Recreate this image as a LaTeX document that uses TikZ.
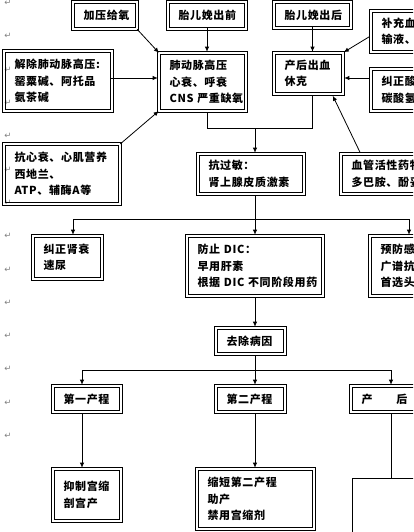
\documentclass[tikz,border=0pt]{standalone}
\usepackage{fontspec}
\newfontfamily\cjk[LetterSpace=6]{Noto Sans CJK SC}
\newfontfamily\symb{DejaVu Sans}
\usetikzlibrary{arrows.meta, positioning, calc}

\tikzset{
	dbox/.style={draw, line width=0.6pt, inner xsep=9pt, inner ysep=0pt, align=left,
		font=\cjk\bfseries\fontsize{11}{16.5}\selectfont},
	bx/.code 2 args={\pgfmathsetmacro\bxw{#1-5}\pgfmathsetmacro\bxh{#2-5}\pgfmathsetmacro\bxt{#1-23}%
		\tikzset{minimum width=\bxw pt, minimum height=\bxh pt, text width=\bxt pt}},
	arr/.style={-{Latex[length=5pt,width=4.5pt]}, line width=0.8pt},
	ln/.style={line width=0.8pt},
	pmark/.style={text=black!50, font=\symb\fontsize{8.5}{8.5}\selectfont, inner sep=0pt}
}

\begin{document}
\begin{tikzpicture}[x=1pt, y=-1pt]
		\useasboundingbox (0,0) rectangle (413,532);
		\clip (0,0) rectangle (413,532);
		% paragraph marks down the margin
		\foreach \k in {0,...,13}
			\node[pmark] (p\k) at (8,{3+33.3*\k}) {↵};

		% top row
		\node[dbox, bx={66}{29}] (jiaya) at (105,15.5) {加压给氧};
		\node[dbox, bx={80}{29}] (qian) at (207,15.5) {胎儿娩出前};
		\node[dbox, bx={79}{28}] (hou) at (312.5,15) {胎儿娩出后};
		\node[dbox, bx={100}{43}] (buchong) at (420,31.5) {补充血容量：\\输液、输血};
		\node[dbox, bx={100}{44}] (suan) at (420,90) {纠正酸中毒：\\碳酸氢钠};
		\node[dbox, bx={89}{60}] (fei) at (202.5,82) {肺动脉高压\\心衰、呼衰\\CNS~严重缺氧};
		\node[dbox, bx={71}{43}] (chanhou) at (308.5,73.5) {产后出血\\休克};
		\node[dbox, bx={110}{62}] (jiechu) at (58,81) {解除肺动脉高压:\\罂粟碱、阿托品\\氨茶碱};
		\node[dbox, bx={118}{62}] (xinshuai) at (62,174) {抗心衰、心肌营养\\西地兰、\\ATP、辅酶A等};
		\node[dbox, bx={108}{42}] (guomin) at (251,174) {抗过敏：\\肾上腺皮质激素};
		\node[dbox, bx={130}{42}] (xueguan) at (405,174) {血管活性药物：\\多巴胺、酚妥拉明};

		% middle row
		\node[dbox, bx={71}{45}] (shenshuai) at (67.5,257.5) {纠正肾衰\\速尿};
		\node[dbox, bx={138}{62}] (dic) at (255,266) {防止~DIC：\\早用肝素\\根据~DIC~不同阶段用药};
		\node[dbox, bx={101}{62}] (ganran) at (419.5,266) {预防感染：\\广谱抗生素\\首选头孢类};
		\node[dbox, bx={71}{28}] (bingyin) at (250.5,341) {去除病因};

		% stages
		\node[dbox, bx={70}{28}] (yi) at (87,399) {第一产程};
		\node[dbox, bx={71}{28}] (er) at (250.5,399) {第二产程};
		\node[dbox, bx={120}{28}] (chanhouqi) at (410,399) {产　　后};
		\node[dbox, bx={70}{54}] (yizhi) at (87,495) {抑制宫缩\\剖宫产};
		\node[dbox, bx={119}{62}] (suoduan) at (255.5,499) {缩短第二产程\\助产\\禁用宫缩剂};
		\node[draw, line width=0.6pt, minimum width=120pt, minimum height=90pt, anchor=north west] (kong) at (352,478) {};

		% thick outer frames
		\foreach \n in {jiaya,qian,hou,buchong,suan,fei,chanhou,jiechu,xinshuai,guomin,xueguan,
				shenshuai,dic,ganran,bingyin,yi,er,chanhouqi,yizhi,suoduan}
			\draw[line width=1.4pt] ([shift={(-2.5pt,2.5pt)}]\n.north west) rectangle ([shift={(2.5pt,-2.5pt)}]\n.south east);

		\coordinate (m1) at (255,128);
		\coordinate (l2) at (73,219);
		\coordinate (r2) at (409,219);
		\coordinate (l3) at (82,370);
		\coordinate (m3) at (255,370);
		\coordinate (r3) at (391,370);

		% into the two upper boxes
		\draw[arr, shorten >=2pt, shorten <=2pt] (jiaya.south east) -- (fei.north west);
		\draw[arr] (qian.south) -- ([yshift=2.5pt]qian.south |- fei.north);
		\draw[arr] (hou.south) -- ([yshift=2.5pt]hou.south |- chanhou.north);
		\draw[arr] (jiechu.east |- 0,78) -- ([xshift=-2.5pt]fei.west |- 0,78);
		\draw[arr, shorten >=2pt, shorten <=2pt] (xinshuai.north east) -- (fei.south west);
		\draw[arr] ([shift={(-2.5pt,-5pt)}]buchong.west) -- ([shift={(2pt,2pt)}]chanhou.north east);
		\draw[arr] ([xshift=-2.5pt]suan.west |- 0,78) -- ([xshift=2.5pt]chanhou.east |- 0,78);
		\draw[arr] ([shift={(18pt,2.5pt)}]xueguan.north west) -- ([shift={(-9pt,-3pt)}]chanhou.south east);

		% merge and go down
		\draw[ln] ([yshift=-2.5pt]qian.south |- fei.south) |- (hou.south |- m1) -- ([yshift=-2.5pt]hou.south |- chanhou.south);
		\draw[arr] (m1) -- ([yshift=2.5pt]m1 |- guomin.north);
		\draw[arr] ([yshift=-2.5pt]m1 |- guomin.south) -- ([yshift=2.5pt]m1 |- dic.north);
		\draw[ln] (l2) -- (r2);
		\draw[arr] (l2) -- ([yshift=2.5pt]l2 |- shenshuai.north);
		\draw[arr] (r2) -- ([yshift=2.5pt]r2 |- ganran.north);
		\draw[arr] ([yshift=-2.5pt]m3 |- dic.south) -- ([yshift=2.5pt]m3 |- bingyin.north);

		% the three stages
		\draw[ln] ([yshift=-2.5pt]m3 |- bingyin.south) -- (m3);
		\draw[ln] (l3) -- (r3);
		\draw[arr] (l3) -- ([yshift=2.5pt]l3 |- yi.north);
		\draw[arr] (m3) -- ([yshift=2.5pt]m3 |- er.north);
		\draw[arr] (r3) -- ([yshift=2.5pt]r3 |- chanhouqi.north);
		\draw[arr] ([yshift=-2.5pt]l3 |- yi.south) -- ([yshift=2.5pt]l3 |- yizhi.north);
		\draw[arr] ([yshift=-2.5pt]m3 |- er.south) -- ([yshift=2.5pt]m3 |- suoduan.north);
		\draw[ln] ([yshift=-2.5pt]r3 |- chanhouqi.south) -- (r3 |- kong.north);
	\end{tikzpicture}
\end{document}
